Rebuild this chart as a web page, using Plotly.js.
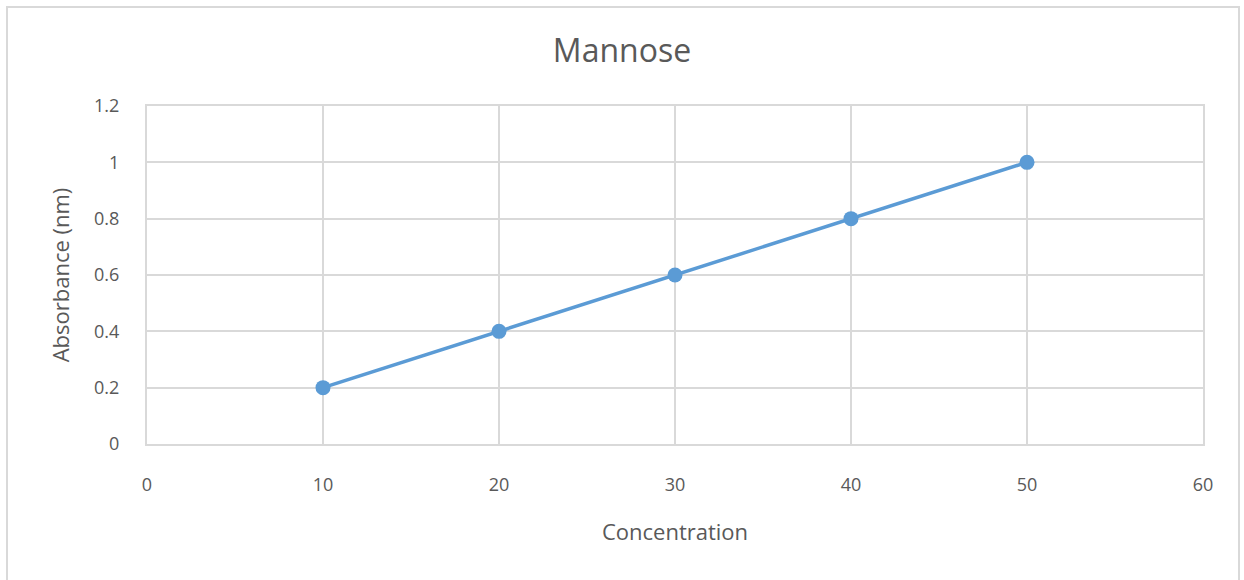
<!DOCTYPE html>
<html><head><meta charset="utf-8">
<script src="https://cdn.plot.ly/plotly-3.0.1.min.js"></script>
<style>
html,body{margin:0;padding:0;background:#fff;overflow:hidden;}
#frame{position:absolute;left:6px;top:6px;width:1234px;height:600px;border:2px solid #d9d9d9;box-sizing:border-box;pointer-events:none;z-index:10;}
#chart{position:absolute;left:0;top:0;width:1244px;height:580px;}
</style></head>
<body>
<div id="chart"></div>
<div id="frame"></div>
<script>
const concentration = [10, 20, 30, 40, 50];
const absorbance = [0.2, 0.4, 0.6, 0.8, 1.0];
const xTicks = [0, 10, 20, 30, 40, 50, 60];
const yTicks = [0, 0.2, 0.4, 0.6, 0.8, 1, 1.2];
const yTickText = ['0', '0.2', '0.4', '0.6', '0.8', '1', '1.2'];

const font = 'Open Sans, Liberation Sans, sans-serif';
Plotly.newPlot('chart', [{
  x: concentration, y: absorbance, type: 'scatter', mode: 'lines+markers',
  line: {color: '#5b9bd5', width: 3.5},
  marker: {color: '#5b9bd5', size: 15},
  hoverinfo: 'none'
}], {
  width: 1244, height: 580,
  margin: {l: 147, r: 41, t: 106, b: 136},
  paper_bgcolor: '#fff', plot_bgcolor: '#fff',
  showlegend: false,
  title: {text: 'Mannose', font: {family: font, size: 32, color: '#595959'}, x: 0.5, xanchor: 'center', y: 0.913, yanchor: 'middle'},
  xaxis: {
    range: [0, 60], tickvals: xTicks, ticktext: xTicks.map(String),
    showgrid: true, gridcolor: '#d9d9d9', gridwidth: 2,
    showline: true, linecolor: '#d9d9d9', linewidth: 2, mirror: true,
    zeroline: false, ticks: '', ticklabelstandoff: 23,
    tickfont: {family: font, size: 18, color: '#595959'},
    title: {text: 'Concentration', font: {family: font, size: 22, color: '#595959'}, standoff: 30}
  },
  yaxis: {
    range: [0, 1.2], tickvals: yTicks, ticktext: yTickText,
    showgrid: true, gridcolor: '#d9d9d9', gridwidth: 2,
    showline: true, linecolor: '#d9d9d9', linewidth: 2, mirror: true,
    zeroline: false, ticks: '', ticklabelstandoff: 22,
    tickfont: {family: font, size: 18, color: '#595959'},
    title: {text: 'Absorbance (nm)', font: {family: font, size: 22, color: '#595959'}, standoff: 18}
  }
}, {displayModeBar: false, staticPlot: true});
</script>
</body></html>
